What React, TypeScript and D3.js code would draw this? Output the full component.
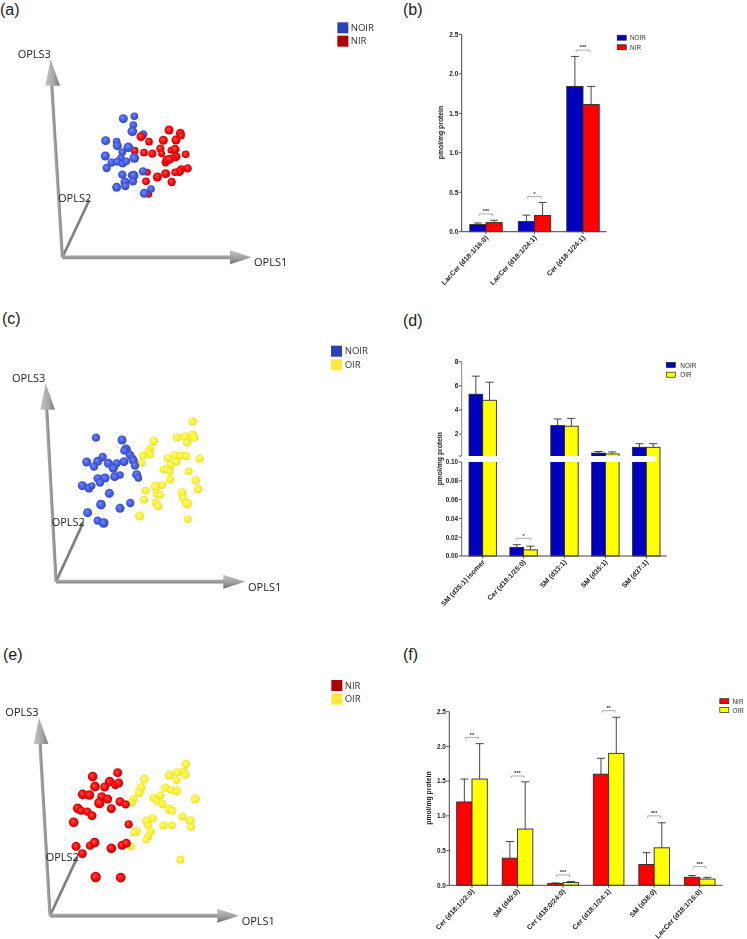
import React from "react";
import * as d3 from "d3";

type Pt = [number, number, number];

// ---------- score plot readings (score1, score3, sphere size) ----------
const aNoir: Pt[] = [[370,356,12],[403,349,10],[400,375,10],[397,394,13],[430,403,11],[317,422,12],[350,425,10],[352,437,12],[385,442,13],[367,456,10],[316,468,12],[363,474,10],[335,488,11],[352,485,11],[368,491,10],[379,484,10],[403,474,13],[320,504,11],[367,524,11],[395,526,10],[401,527,13],[429,514,11],[399,544,11],[375,546,12],[376,558,11],[350,562,12],[453,567,10],[433,580,12]];
const aNirBack: Pt[] = [[442,517,9],[446,583,9],[404,452,10]];
const aNirFront: Pt[] = [[507,390,12],[541,400,12],[544,407,9],[423,410,12],[447,425,10],[490,421,12],[528,420,12],[432,458,10],[457,461,11],[481,446,11],[485,461,9],[513,451,9],[525,448,12],[557,463,10],[528,470,12],[497,487,11],[500,480,11],[520,474,9],[508,478,12],[563,505,11],[544,507,10],[538,515,12],[525,517,10],[497,521,12],[472,531,12],[438,544,10],[515,546,11]];

const cOir: Pt[] = [[578,334,11],[461,393,11],[531,382,11],[555,380,11],[578,375,12],[582,383,11],[561,398,10],[450,418,12],[445,426,10],[429,437,10],[451,435,9],[424,459,10],[503,444,10],[525,436,11],[541,437,10],[558,438,11],[530,455,10],[599,446,11],[511,465,11],[490,478,10],[500,478,10],[509,484,10],[566,484,10],[510,509,11],[587,511,11],[486,526,10],[466,529,12],[594,537,11],[437,542,10],[470,551,11],[480,555,10],[546,548,12],[432,569,10],[549,565,10],[561,581,13],[467,578,10],[475,589,10],[419,618,12],[563,628,10]];
const cNoir: Pt[] = [[288,383,11],[366,390,12],[378,418,13],[373,422,11],[390,435,11],[397,445,11],[400,452,12],[405,467,11],[410,494,12],[415,504,10],[308,441,11],[293,454,12],[260,456,12],[282,470,11],[325,460,12],[350,460,11],[372,455,12],[340,475,12],[360,495,10],[344,500,12],[315,504,12],[293,505,11],[300,518,11],[247,527,12],[267,534,12],[276,527,9],[328,550,12],[303,584,13],[391,579,11],[360,595,12],[263,608,12],[293,632,11],[311,639,13]];

const eOir: Pt[] = [[557,372,11],[508,405,12],[532,397,11],[552,395,10],[556,404,11],[530,421,10],[433,417,11],[423,443,12],[417,458,12],[400,478,11],[395,488,10],[496,443,11],[514,450,10],[530,453,11],[460,474,10],[481,466,11],[470,483,10],[487,492,11],[586,477,12],[508,508,12],[516,512,10],[547,530,10],[458,535,11],[440,543,12],[444,556,10],[571,542,12],[573,561,10],[490,556,11],[515,556,10],[410,574,11],[402,578,9],[452,575,11],[445,590,10],[438,600,9],[392,619,11],[541,659,10]];
const eNir: Pt[] = [[353,398,12],[278,410,13],[329,425,13],[346,435,11],[356,429,12],[285,440,13],[314,441,12],[248,463,13],[268,465,13],[305,470,12],[323,477,12],[298,489,14],[360,485,12],[377,493,11],[334,506,12],[233,505,13],[243,512,11],[262,515,11],[276,527,12],[221,547,13],[386,553,11],[228,619,12],[270,617,11],[284,608,13],[334,625,13],[247,641,12],[366,616,12],[379,610,12],[287,711,14],[362,713,13]];

// ---------- bar chart values ----------
const bCats = ["LacCer (d18:1/16:0)", "LacCer (d18:1/24:1)", "Cer (d18:1/24:1)"];
const bNoir = [0.09, 0.13, 1.84];
const bNoirErr = [0.11, 0.21, 2.22];
const bNir = [0.115, 0.205, 1.61];
const bNirErr = [0.145, 0.37, 1.84];
const bSig: [number, string, number][] = [[0, "***", 0.225], [1, "*", 0.445], [2, "***", 2.3]];
const bTicks = [0, 0.5, 1, 1.5, 2, 2.5];

const dCats = ["SM (d35:1) isomer", "Cer (d18:1/25:0)", "SM (d33:1)", "SM (d35:1)", "SM (d37:1)"];
const dNoir = [5.3, 0.009, 2.7, 0.42, 0.9];
const dNoirErr = [6.8, 0.012, 3.25, 0.55, 1.2];
const dOir = [4.8, 0.0065, 2.65, 0.35, 0.9];
const dOirErr = [6.3, 0.0105, 3.3, 0.52, 1.2];
const dSig: [number, string, number][] = [[1, "*", 0.0188]];
const dTicksLow = [0, 0.02, 0.04, 0.06, 0.08, 0.1];
const dTicksHigh = [2, 4, 6, 8];

const fCats = ["Cer (d18:1/22:0)", "SM (d40:0)", "Cer (d18:0/24:0)", "Cer (d18:1/24:1)", "SM (d38:0)", "LacCer (d18:1/16:0)"];
const fNir = [1.2, 0.39, 0.025, 1.6, 0.3, 0.115];
const fNirErr = [1.53, 0.63, 0.035, 1.83, 0.47, 0.14];
const fOir = [1.53, 0.81, 0.04, 1.9, 0.54, 0.09];
const fOirErr = [2.04, 1.49, 0.055, 2.42, 0.9, 0.115];
const fSig: [number, string, number][] = [[0, "**", 2.13], [1, "***", 1.574], [2, "***", 0.149], [3, "**", 2.515], [4, "***", 1.0], [5, "***", 0.269]];

// ---------- drawing helpers ----------
const SANS = "'Liberation Sans', Arial, sans-serif";
const COLORS: Record<string, string> = { blue: "#0000be", red: "#ff0000", yellow: "#ffff00" };
const LEG3D: Record<string, string> = { blue: "#2b43b5", red: "#ad0000", yellow: "#ffea3a" };

function Spheres({ pts, fill, sx, sy }: { pts: Pt[]; fill: string; sx: any; sy: any }) {
  return (
    <g>
      {pts.map((p, i) => (
        <circle key={i} cx={sx(p[0])} cy={sy(p[1])} r={p[2] / 3 + 0.5} fill={`url(#sph-${fill})`} />
      ))}
    </g>
  );
}

function Score({ dy, origin, tip3, tip2, tip1, labels, legend, layers }: any) {
  const sx = d3.scaleLinear().domain([0, 1200]).range([0, 400]);
  const sy = d3.scaleLinear().domain([0, 900]).range([dy, dy + 300]);
  const P = (x: number, y: number) => `${sx(x)},${sy(y)}`;
  const [ox, oy] = origin;
  return (
    <g filter="url(#soft)">
      {/* OPLS2 */}
      <line x1={sx(ox)} y1={sy(oy)} x2={sx(tip2[0])} y2={sy(tip2[1])} stroke="#7f7f7f" strokeWidth={2.6} />
      {/* OPLS3 */}
      <line x1={sx(ox)} y1={sy(oy)} x2={sx(tip3[0] + 3)} y2={sy(tip3[1] + 75)} stroke="#a2a2a2" strokeWidth={3.2} />
      <line x1={sx(ox + 2)} y1={sy(oy)} x2={sx(tip3[0] + 5)} y2={sy(tip3[1] + 75)} stroke="#8a8a8a" strokeWidth={1} />
      <polygon
        points={[P(tip3[0], tip3[1]), P(tip3[0] - 16, tip3[1] + 79), P(tip3[0] + 28, tip3[1] + 79)].join(" ")}
        fill="url(#coneV)"
      />
      {/* OPLS1 */}
      <line x1={sx(ox)} y1={sy(oy)} x2={sx(tip1[0] - 60)} y2={sy(oy)} stroke="#a2a2a2" strokeWidth={3.6} />
      <line x1={sx(ox)} y1={sy(oy + 3)} x2={sx(tip1[0] - 60)} y2={sy(oy + 3)} stroke="#8a8a8a" strokeWidth={1} />
      <polygon
        points={[P(tip1[0], oy), P(tip1[0] - 65, oy - 21), P(tip1[0] - 65, oy + 21)].join(" ")}
        fill="url(#coneH)"
      />
      {layers.map((l: any, i: number) => (
        <Spheres key={i} pts={l[0]} fill={l[1]} sx={sx} sy={sy} />
      ))}
      {labels.map((l: any) => (
        <text key={l[0]} x={sx(l[1])} y={sy(l[2])} dy="0.36em" fontFamily="'Open Sans', sans-serif" fontSize={11} fill="#222">
          {l[0]}
        </text>
      ))}
      {legend.map((l: any) => (
        <g key={l[0]}>
          <rect x={sx(l[1])} y={sy(l[2])} width={11} height={11} fill={LEG3D[l[3]]} />
          <text x={sx(l[4])} y={sy(l[2] + 16)} dy="0.36em" fontFamily="'Open Sans', sans-serif" fontSize={9.6} fill="#333">
            {l[0]}
          </text>
        </g>
      ))}
    </g>
  );
}

function LegendBar({ x, items, textX }: any) {
  return (
    <g>
      {items.map((it: any) => (
        <g key={it[0]}>
          <rect x={x} y={it[2]} width={9} height={5} fill={COLORS[it[1]]} stroke="#222" strokeWidth={0.7} />
          <text x={textX} y={it[2] + 2.7} dy="0.36em" fontFamily={SANS} fontSize={6.4} fill="#333">
            {it[0]}
          </text>
        </g>
      ))}
    </g>
  );
}

function YTicks({ x, y, ticks, fmt }: any) {
  return (
    <g>
      {ticks.map((t: number) => (
        <g key={t}>
          <line x1={x - 3} x2={x} y1={y(t)} y2={y(t)} stroke="#444" strokeWidth={0.9} />
          <text x={x - 3.5} y={y(t)} dy="0.36em" textAnchor="end" fontFamily={SANS} fontWeight="bold" fontSize={6.4} fill="#222">
            {d3.format(fmt)(t)}
          </text>
        </g>
      ))}
    </g>
  );
}

function Groups({ cats, xc, barW, s1, e1, s2, e2, c1, c2, y, y0 }: any) {
  return (
    <g>
      {cats.map((c: string, i: number) => {
        const cx = xc(c);
        const draw = (v: number, e: number, left: number, col: string) => (
          <g>
            <line x1={left + barW / 2} x2={left + barW / 2} y1={y(v)} y2={y(e)} stroke="#333" strokeWidth={0.9} />
            <line x1={left + barW / 2 - 4} x2={left + barW / 2 + 4} y1={y(e)} y2={y(e)} stroke="#333" strokeWidth={0.9} />
            <rect x={left} y={y(v)} width={barW} height={y0 - y(v)} fill={COLORS[col]} stroke="#2a2a2a" strokeWidth={0.9} />
          </g>
        );
        return (
          <g key={c}>
            {draw(s1[i], e1[i], cx - barW, c1)}
            {draw(s2[i], e2[i], cx, c2)}
          </g>
        );
      })}
    </g>
  );
}

function Cats({ cats, xc, y0 }: any) {
  return (
    <g>
      {cats.map((c: string) => (
        <g key={c}>
          <line x1={xc(c)} x2={xc(c)} y1={y0} y2={y0 + 2.5} stroke="#444" strokeWidth={0.9} />
          <text
            transform={`translate(${xc(c) + 1},${y0 + 5}) rotate(-47)`}
            textAnchor="end"
            dy="0.3em"
            fontFamily={SANS}
            fontWeight="bold"
            fontSize={7}
            fill="#222"
          >
            {c}
          </text>
        </g>
      ))}
    </g>
  );
}

function Sig({ sig, cats, xc, y, half }: any) {
  return (
    <g>
      {sig.map((s: any) => {
        const cx = xc(cats[s[0]]);
        const yy = y(s[2]);
        return (
          <g key={s[0]}>
            <path d={`M${cx - half},${yy + 2}V${yy}H${cx + half}V${yy + 2}`} fill="none" stroke="#666" strokeWidth={0.55} />
            <text x={cx} y={yy - 0.8} textAnchor="middle" fontFamily={SANS} fontWeight="bold" fontSize={5.5} fill="#333">
              {s[1]}
            </text>
          </g>
        );
      })}
    </g>
  );
}

function YLabel({ x, y }: any) {
  return (
    <text
      transform={`translate(${x},${y}) rotate(-90)`}
      textAnchor="middle"
      dy="0.36em"
      fontFamily={SANS}
      fontWeight="bold"
      fontSize={6.8}
      fill="#222"
    >
      pmol/mg protein
    </text>
  );
}

function PanelB() {
  const axisX = 461.7, y0 = 231.7, yTop = 34.3;
  const y = d3.scaleLinear().domain([0, 2.5]).range([y0, yTop]);
  const xc = d3.scalePoint<string>().domain(bCats).range([486, 583]);
  return (
    <g filter="url(#soft)">
      <Groups cats={bCats} xc={xc} barW={16.2} s1={bNoir} e1={bNoirErr} s2={bNir} e2={bNirErr} c1="blue" c2="red" y={y} y0={y0} />
      <line x1={axisX} x2={axisX} y1={yTop} y2={y0} stroke="#444" />
      <line x1={axisX} x2={606.7} y1={y0} y2={y0} stroke="#444" />
      <YTicks x={axisX} y={y} ticks={bTicks} fmt=".1f" />
      <Cats cats={bCats} xc={xc} y0={y0} />
      <Sig sig={bSig} cats={bCats} xc={xc} y={y} half={6.8} />
      <YLabel x={440.7} y={132.5} />
      <LegendBar x={617.2} textX={630} items={[["NOIR", "blue", 35.2], ["NIR", "red", 44.8]]} />
    </g>
  );
}

function PanelD() {
  const axisX = 461.7, y0 = 556, yGapLow = 462, yGapHigh = 456, yTop = 361.7;
  const yLow = d3.scaleLinear().domain([0, 0.1]).range([y0, yGapLow]);
  const yHigh = d3.scaleLinear().domain([0.18, 8]).range([yGapHigh, yTop]);
  const xc = d3.scalePoint<string>().domain(dCats).range([482.7, 646.3]);
  const barW = 13.7;
  const y = (v: number) => (v > 0.1 ? yHigh(v) : yLow(v));
  return (
    <g filter="url(#soft)">
      <Groups cats={dCats} xc={xc} barW={barW} s1={dNoir} e1={dNoirErr} s2={dOir} e2={dOirErr} c1="blue" c2="yellow" y={y} y0={y0} />
      {/* the white gap of the broken axis */}
      <rect x={axisX - 6} y={yGapHigh} width={200} height={yGapLow - yGapHigh} fill="#fff" />
      <line x1={axisX} x2={axisX} y1={yTop} y2={yGapHigh} stroke="#888" />
      <line x1={axisX} x2={axisX} y1={yGapLow} y2={y0} stroke="#666" />
      <line x1={axisX} x2={666.7} y1={y0} y2={y0} stroke="#444" />
      <line x1={axisX - 3} x2={axisX} y1={yGapHigh} y2={yGapHigh} stroke="#444" strokeWidth={0.9} />
      <YTicks x={axisX} y={yHigh} ticks={dTicksHigh} fmt="d" />
      <YTicks x={axisX} y={yLow} ticks={dTicksLow} fmt=".2f" />
      <Cats cats={dCats} xc={xc} y0={y0} />
      <Sig sig={dSig} cats={dCats} xc={xc} y={yLow} half={7.3} />
      <YLabel x={440} y={458.7} />
      <LegendBar x={666.3} textX={680.3} items={[["NOIR", "blue", 362.5], ["OIR", "yellow", 372.2]]} />
    </g>
  );
}

function PanelF() {
  const axisX = 449.3, y0 = 885.3, yTop = 711.7;
  const y = d3.scaleLinear().domain([0, 2.5]).range([y0, yTop]);
  const xc = d3.scalePoint<string>().domain(fCats).range([472, 699.7]);
  return (
    <g filter="url(#soft)">
      <Groups cats={fCats} xc={xc} barW={15.3} s1={fNir} e1={fNirErr} s2={fOir} e2={fOirErr} c1="red" c2="yellow" y={y} y0={y0} />
      <line x1={axisX} x2={axisX} y1={yTop} y2={y0} stroke="#444" />
      <line x1={axisX} x2={722.7} y1={y0} y2={y0} stroke="#444" />
      <YTicks x={axisX} y={y} ticks={bTicks} fmt=".1f" />
      <Cats cats={fCats} xc={xc} y0={y0} />
      <Sig sig={fSig} cats={fCats} xc={xc} y={y} half={6.4} />
      <YLabel x={429} y={798} />
      <LegendBar x={719.8} textX={732.5} items={[["NIR", "red", 698.7], ["OIR", "yellow", 707.5]]} />
    </g>
  );
}

const panelLetters: [string, number, number][] = [
  ["(a)", 0, 14.6], ["(b)", 403, 14.6], ["(c)", 2, 324], ["(d)", 403, 326], ["(e)", 3, 660], ["(f)", 403, 660],
];

function sphereGrad(id: string, a: string, b: string, c: string) {
  return (
    <radialGradient id={`sph-${id}`} cx="0.5" cy="0.5" r="0.55" fx="0.38" fy="0.35">
      <stop offset="0" stopColor={a} />
      <stop offset="0.65" stopColor={b} />
      <stop offset="1" stopColor={c} />
    </radialGradient>
  );
}

export default function App() {
  return (
    <svg width={747} height={939} viewBox="0 0 747 939" style={{ position: "absolute", left: 0, top: 0, background: "#fff" }}>
      <defs>
        {sphereGrad("blue", "#7587f5", "#3f58e0", "#2f42b8")}
        {sphereGrad("red", "#ff4a4a", "#f00505", "#b80000")}
        {sphereGrad("yellow", "#ffff8a", "#fdf030", "#e4d418")}
        <linearGradient id="coneV" x1="0" x2="1" y1="0" y2="0">
          <stop offset="0" stopColor="#c4c4c4" />
          <stop offset="0.55" stopColor="#a8a8a8" />
          <stop offset="1" stopColor="#7a7a7a" />
        </linearGradient>
        <linearGradient id="coneH" x1="0" x2="0" y1="0" y2="1">
          <stop offset="0" stopColor="#c4c4c4" />
          <stop offset="0.55" stopColor="#a0a0a0" />
          <stop offset="1" stopColor="#6e6e6e" />
        </linearGradient>
        <filter id="soft" x="-5%" y="-5%" width="110%" height="110%">
          <feGaussianBlur stdDeviation="0.35" />
        </filter>
      </defs>

      <Score
        dy={0}
        origin={[187, 772]}
        tip3={[152, 178]}
        tip2={[268, 600]}
        tip1={[755, 772]}
        labels={[["OPLS3", 53, 162], ["OPLS2", 174, 595], ["OPLS1", 762, 787]]}
        legend={[["NOIR", 1012, 67, "blue", 1052], ["NIR", 1012, 107, "red", 1052]]}
        layers={[[aNirBack, "red"], [aNoir, "blue"], [aNirFront, "red"]]}
      />
      <Score
        dy={310}
        origin={[168, 815]}
        tip3={[137, 220]}
        tip2={[250, 637]}
        tip1={[735, 815]}
        labels={[["OPLS3", 36, 204], ["OPLS2", 155, 637], ["OPLS1", 744, 830]]}
        legend={[["NOIR", 993, 107, "blue", 1034], ["OIR", 993, 148, "yellow", 1034]]}
        layers={[[cOir, "yellow"], [cNoir, "blue"]]}
      />
      <Score
        dy={640}
        origin={[150, 827]}
        tip3={[117, 233]}
        tip2={[233, 650]}
        tip1={[717, 827]}
        labels={[["OPLS3", 16, 217], ["OPLS2", 137, 650], ["OPLS1", 725, 843]]}
        legend={[["NIR", 994, 120, "red", 1034], ["OIR", 994, 161, "yellow", 1034]]}
        layers={[[eOir, "yellow"], [eNir, "red"]]}
      />

      <PanelB />
      <PanelD />
      <PanelF />

      {panelLetters.map((l) => (
        <text key={l[0]} x={l[1]} y={l[2]} fontFamily={SANS} fontSize={16} fill="#222">
          {l[0]}
        </text>
      ))}
    </svg>
  );
}
